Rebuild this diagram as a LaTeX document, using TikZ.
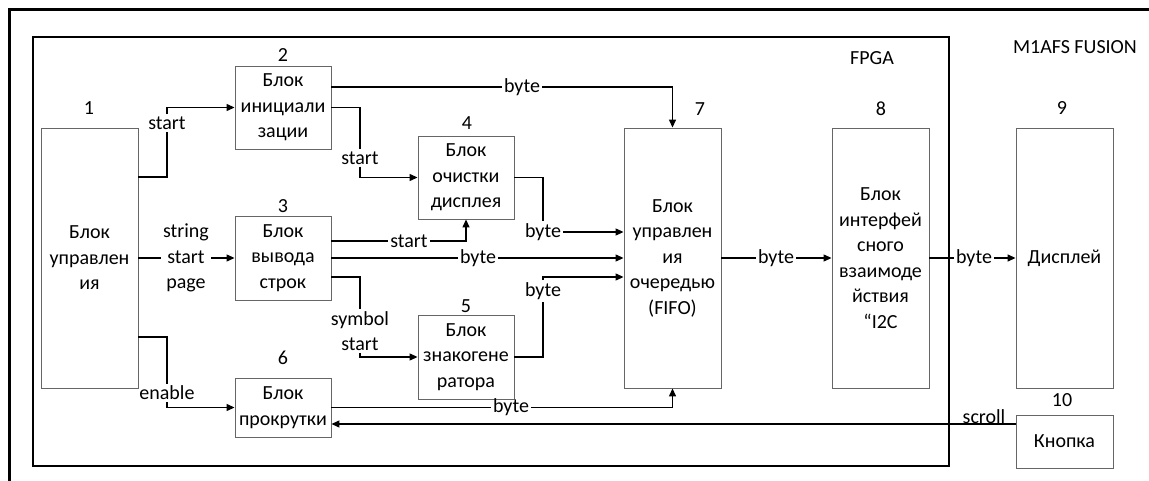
\documentclass[tikz,border=0pt]{standalone}
\usepackage{fontspec}
\setmainfont{Carlito}
\usetikzlibrary{arrows.meta}
\tikzset{
  blk/.style={draw=black!60, line width=0.9pt, align=center, inner sep=0pt, minimum width=97pt},
  lbl/.style={inner sep=2pt},
  conn/.style={line width=1.3pt},
}
\begin{document}
\begin{tikzpicture}[x=1pt, y=-1pt, font=\fontsize{20}{25.5}\selectfont, >={Triangle[length=8pt,width=7pt]}]
\useasboundingbox (0,0) rectangle (1149,481);
\draw[line width=3pt] (9,495) -- (9,10) -- (1165,10);
\node[draw, line width=1.8pt, minimum width=916pt, minimum height=429pt] (fpga) at (491,251.5) {};
\node (tfpga) at (872,58) {FPGA};
\node (tm1afs) at (1075,47) {M1AFS FUSION};
\node[blk, minimum height=260pt] (b1) at (89.5,258) {Блок\\управлен\\ия};
\node[blk, minimum width=96pt, minimum height=83pt] (b2) at (283,107.5) {Блок\\инициали\\зации};
\node[blk, minimum width=96pt, minimum height=84pt] (b3) at (283,258) {Блок\\вывода\\строк};
\node[blk, minimum width=96pt, minimum height=83pt] (b4) at (466,177.5) {Блок\\очистки\\дисплея};
\node[blk, minimum width=96pt, minimum height=84pt] (b5) at (466,357) {Блок\\знакогене\\ратора};
\node[blk, minimum width=96pt, minimum height=59pt] (b6) at (283,407.5) {Блок\\прокрутки};
\node[blk, minimum height=260pt] (b7) at (672.5,258) {Блок\\управлен\\ия\\очередью\\(FIFO)};
\node[blk, minimum height=260pt] (b8) at (880.5,258) {Блок\\интерфей\\сного\\взаимоде\\йствия\\“I2C};
\node[blk, minimum height=260pt] (b9) at (1064.5,258) {Дисплей};
\node[blk, minimum height=53pt] (b10) at (1064.5,441.5) {Кнопка};
\node (n1) at (89,108) {1};
\node (n2) at (283,55) {2};
\node (n3) at (283,206) {3};
\node (n4) at (467,123) {4};
\node (n5) at (466,306) {5};
\node (n6) at (283,358) {6};
\node (n7) at (700,109) {7};
\node (n8) at (881,109) {8};
\node (n9) at (1062,108) {9};
\node (n10) at (1062,400) {10};
\node[lbl] (ls1) at (167,123) {start};
\node[lbl, align=center] (lsp) at (186,258) {string\\start\\page};
\node[lbl] (len) at (167,393) {enable};
\node[lbl] (lb2) at (522,87) {byte};
\node[lbl] (ls2) at (360,158) {start};
\node[lbl] (ls3) at (409,241) {start};
\node[lbl] (lb3) at (478,258) {byte};
\node[lbl, align=center] (lss) at (360,331) {symbol\\start};
\node[lbl] (lb4) at (543,232) {byte};
\node[lbl] (lb5) at (543,291) {byte};
\node[lbl] (lb6) at (511,407.5) {byte};
\node[lbl] (lb7) at (776,258) {byte};
\node[lbl] (lb8) at (974,258) {byte};
\node[anchor=base] (lsc) at (984,423) {scroll};
\draw[conn] ([yshift=81pt]b1.east) -| (ls1.south);
\draw[conn,->] (ls1.north) |- (b2.west);
\draw[conn] (b1.east) -- (lsp.west);
\draw[conn,->] (lsp.east) -- (b3.west);
\draw[conn] ([yshift=-79pt]b1.east) -| (len.north);
\draw[conn,->] (len.south) |- (b6.west);
\draw[conn] ([yshift=20.5pt]b2.east) -- (lb2.west);
\draw[conn,->] (lb2.east) -| (b7.north);
\draw[conn] (b2.east) -| (ls2.north);
\draw[conn,->] (ls2.south) |- (b4.west);
\draw[conn] ([yshift=17pt]b3.east) -- (ls3.west);
\draw[conn,->] (ls3.east) -| (b4.south);
\draw[conn] (b3.east) -- (lb3.west);
\draw[conn,->] (lb3.east) -- (b7.west);
\draw[conn] ([yshift=-19pt]b3.east) -| (lss.north);
\draw[conn,->] (lss.south) |- (b5.west);
\draw[conn] (b4.east) -| (lb4.north);
\draw[conn,->] (lb4.east) -- (lb4.east -| b7.west);
\draw[conn] (b5.east) -| (lb5.south);
\draw[conn,->] (lb5.north) |- ([yshift=-19pt]b7.west);
\draw[conn] (b6.east) -- (lb6.west);
\draw[conn,->] (lb6.east) -| (b7.south);
\draw[conn] (b7.east) -- (lb7.west);
\draw[conn,->] (lb7.east) -- (b8.west);
\draw[conn] (b8.east) -- (lb8.west);
\draw[conn,->] (lb8.east) -- (b9.west);
\draw[conn,->] ([yshift=17.5pt]b10.west) -- ([yshift=17.5pt]b10.west -| b6.east);
\end{tikzpicture}
\end{document}
